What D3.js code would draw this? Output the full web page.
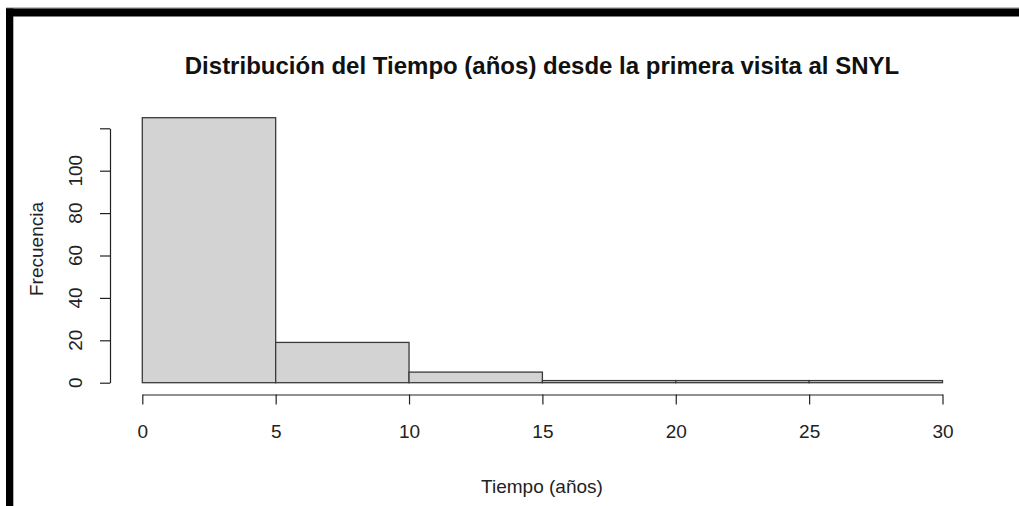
<!DOCTYPE html>
<html><head><meta charset="utf-8">
<script src="https://cdn.jsdelivr.net/npm/d3@7"></script>
<style>html,body{margin:0;padding:0;background:#fff;}svg{display:block;}</style>
</head><body>
<svg id="chart" width="1019" height="506"></svg>
<script>
const binStarts = [0, 5, 10, 15, 20, 25];
const binWidth = 5;
const counts = [125, 19, 5, 1, 1, 1];
const xTicks = [0, 5, 10, 15, 20, 25, 30];
const yTicks = [0, 20, 40, 60, 80, 100, 120];
const yTickLabels = ["0", "20", "40", "60", "80", "100", ""];
const title = "Distribución del Tiempo (años) desde la primera visita al SNYL";
const xLabel = "Tiempo (años)";
const yLabel = "Frecuencia";

const svg = d3.select("#chart");
const font = "Liberation Sans, Arial, sans-serif";

// frame decorations
svg.append("rect").attr("x", 6).attr("y", 7.5).attr("width", 1013).attr("height", 1).attr("fill", "#888");
svg.append("rect").attr("x", 6).attr("y", 8.5).attr("width", 1013).attr("height", 8).attr("fill", "#000");
svg.append("rect").attr("x", 6).attr("y", 8.5).attr("width", 7.3).attr("height", 498).attr("fill", "#000");

const x = d3.scaleLinear().domain([0, 30]).range([142.3, 942.5]);
const y = d3.scaleLinear().domain([0, 120]).range([382.7, 128.3]);

// bars
svg.append("g").selectAll("rect").data(binStarts).join("rect")
  .attr("x", d => x(d))
  .attr("width", d => x(d + binWidth) - x(d))
  .attr("y", (d, i) => y(counts[i]))
  .attr("height", (d, i) => y(0) - y(counts[i]))
  .attr("fill", "#d3d3d3")
  .attr("stroke", "#3a3a3a")
  .attr("stroke-width", 1.3);

// y axis
const yAxis = d3.axisLeft(y).tickValues(yTicks).tickSize(10).tickSizeOuter(0).tickFormat(() => "");
const gy = svg.append("g").attr("transform", "translate(110,0)").call(yAxis);
gy.selectAll("path,line").attr("stroke", "#222").attr("stroke-width", 1.2);
svg.append("g").selectAll("text").data(yTicks).join("text")
  .attr("transform", d => `translate(82,${y(d)}) rotate(-90)`)
  .attr("text-anchor", "middle")
  .attr("font-family", font).attr("font-size", 19).attr("fill", "#222")
  .text((d, i) => yTickLabels[i]);

// x axis
const xAxis = d3.axisBottom(x).tickValues(xTicks).tickSize(10).tickSizeOuter(0).tickFormat(d3.format("d"));
const gx = svg.append("g").attr("transform", "translate(0,394.5)").call(xAxis);
gx.selectAll("path,line").attr("stroke", "#222").attr("stroke-width", 1.2);
gx.selectAll("text").attr("font-family", font).attr("font-size", 19).attr("fill", "#222")
  .attr("y", 0).attr("dy", 0).attr("transform", "translate(0,43.5)");

// title and axis labels
svg.append("text").attr("x", 542).attr("y", 74).attr("text-anchor", "middle")
  .attr("font-family", font).attr("font-size", 24).attr("font-weight", "bold").attr("fill", "#111")
  .text(title);
svg.append("text").attr("x", 542).attr("y", 493).attr("text-anchor", "middle")
  .attr("font-family", font).attr("font-size", 19).attr("fill", "#222")
  .text(xLabel);
svg.append("text").attr("transform", "translate(43,249) rotate(-90)").attr("text-anchor", "middle")
  .attr("font-family", font).attr("font-size", 19).attr("fill", "#222")
  .text(yLabel);
</script>
</body></html>
